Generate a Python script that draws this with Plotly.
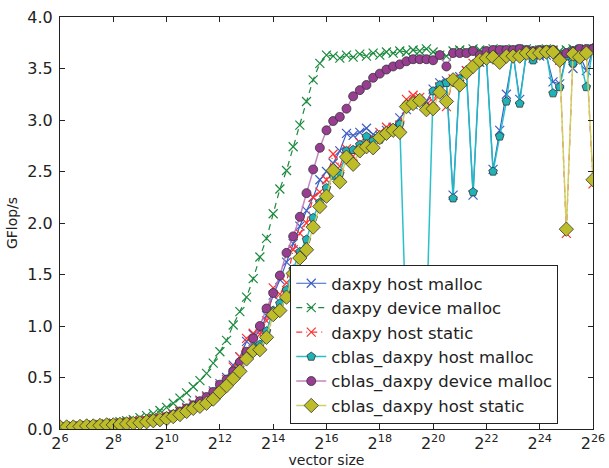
import plotly.graph_objects as go

# Vector sizes: four samples per octave from 2^6 to 2^26
vector_sizes = [2 ** (e / 4) for e in range(24, 105)]

daxpy_host_malloc = [
    0.02, 0.02, 0.025, 0.03, 0.03, 0.035, 0.04, 0.045, 0.05, 0.055, 0.06, 0.065, 0.075, 0.085, 0.095, 0.105, 0.12, 0.14, 0.17, 0.21,
    0.25, 0.28, 0.32, 0.37, 0.44, 0.50, 0.62, 0.70, 0.85, 0.92, 0.95, 1.10, 1.30, 1.45, 1.62, 1.80, 1.97, 2.12, 2.25, 2.42,
    2.50, 2.58, 2.70, 2.87, 2.85, 2.88, 2.92, 2.86, 2.85, 2.90, 2.93, 3.02, 3.10, 3.15, 3.18, 3.18, 3.30, 3.36, 3.38, 2.27,
    3.42, 3.48, 2.27, 3.56, 3.60, 2.52, 2.90, 3.25, 3.64, 3.20, 3.64, 3.60, 3.62, 3.63, 3.37, 3.35, 3.62, 3.50, 3.63, 3.48, 3.68,
]
daxpy_device_malloc = [
    0.02, 0.02, 0.025, 0.03, 0.035, 0.04, 0.045, 0.05, 0.06, 0.07, 0.08, 0.09, 0.11, 0.13, 0.15, 0.18, 0.21, 0.25, 0.30, 0.35,
    0.41, 0.47, 0.54, 0.64, 0.75, 0.86, 1.01, 1.14, 1.28, 1.46, 1.67, 1.85, 2.09, 2.33, 2.51, 2.74, 2.95, 3.18, 3.39, 3.55,
    3.63, 3.62, 3.60, 3.63, 3.61, 3.64, 3.62, 3.65, 3.63, 3.66, 3.65, 3.67, 3.66, 3.68, 3.67, 3.69, 3.66, 3.63, 3.62, 3.67,
    3.68, 3.67, 3.69, 3.68, 3.67, 3.69, 3.68, 3.68, 3.69, 3.68, 3.69, 3.68, 3.68, 3.69, 3.68, 3.67, 3.68, 3.69, 3.68, 3.69, 3.69,
]
daxpy_host_static = [
    0.02, 0.02, 0.025, 0.03, 0.03, 0.035, 0.04, 0.045, 0.05, 0.055, 0.06, 0.07, 0.075, 0.085, 0.095, 0.11, 0.12, 0.14, 0.17, 0.20,
    0.24, 0.27, 0.31, 0.35, 0.42, 0.48, 0.60, 0.70, 0.88, 0.93, 0.92, 1.05, 1.37, 1.31, 1.42, 1.74, 1.90, 2.00, 2.25, 2.30,
    2.42, 2.67, 2.55, 2.72, 2.65, 2.78, 2.80, 2.82, 2.88, 2.93, 2.92, 2.95, 3.20, 3.24, 3.22, 3.15, 3.18, 3.32, 3.13, 3.40,
    3.38, 3.48, 3.55, 3.60, 3.62, 3.62, 3.58, 3.64, 3.63, 3.63, 3.66, 3.65, 3.66, 3.67, 3.67, 3.58, 1.90, 3.64, 3.62, 3.66, 2.38,
]
cblas_host_malloc = [
    0.02, 0.02, 0.02, 0.025, 0.03, 0.03, 0.035, 0.04, 0.045, 0.05, 0.055, 0.06, 0.065, 0.075, 0.085, 0.095, 0.11, 0.13, 0.16, 0.19,
    0.21, 0.24, 0.27, 0.31, 0.38, 0.44, 0.52, 0.60, 0.72, 0.80, 0.82, 0.95, 1.15, 1.22, 1.35, 1.55, 1.72, 1.84, 2.05, 2.20,
    2.34, 2.46, 2.48, 2.70, 2.71, 2.76, 2.84, 2.80, 2.81, 2.88, 2.92, 2.96, 0.87, 0.55, 0.75, 1.04, 3.28, 3.34, 3.36, 2.24,
    3.40, 3.46, 2.30, 3.56, 3.60, 2.50, 2.84, 3.18, 3.66, 3.16, 3.66, 3.58, 3.64, 3.65, 3.26, 3.32, 3.62, 3.55, 3.62, 3.32, 3.70,
]
cblas_device_malloc = [
    0.02, 0.02, 0.02, 0.025, 0.03, 0.03, 0.035, 0.04, 0.045, 0.05, 0.055, 0.06, 0.07, 0.08, 0.09, 0.10, 0.12, 0.14, 0.17, 0.20,
    0.23, 0.27, 0.31, 0.36, 0.43, 0.48, 0.56, 0.65, 0.75, 0.88, 1.00, 1.17, 1.32, 1.49, 1.71, 1.87, 2.06, 2.29, 2.52, 2.73,
    2.90, 2.99, 3.03, 3.11, 3.23, 3.29, 3.34, 3.41, 3.45, 3.49, 3.52, 3.54, 3.57, 3.59, 3.59, 3.59, 3.58, 3.63, 3.52, 3.65,
    3.65, 3.65, 3.67, 3.63, 3.67, 3.68, 3.68, 3.68, 3.68, 3.69, 3.68, 3.67, 3.68, 3.68, 3.68, 3.62, 3.65, 3.67, 3.69, 3.69, 3.69,
]
cblas_host_static = [
    0.02, 0.02, 0.02, 0.025, 0.03, 0.03, 0.035, 0.04, 0.04, 0.045, 0.05, 0.055, 0.06, 0.07, 0.08, 0.09, 0.10, 0.12, 0.14, 0.17,
    0.20, 0.22, 0.25, 0.29, 0.36, 0.42, 0.49, 0.56, 0.68, 0.76, 0.77, 0.89, 1.11, 1.15, 1.28, 1.51, 1.66, 1.74, 1.96, 2.16,
    2.26, 2.51, 2.40, 2.64, 2.57, 2.70, 2.74, 2.73, 2.83, 2.87, 2.90, 2.88, 3.13, 3.16, 3.19, 3.10, 3.11, 3.27, 3.18, 3.39,
    3.34, 3.46, 3.52, 3.58, 3.60, 3.61, 3.56, 3.62, 3.62, 3.62, 3.65, 3.64, 3.65, 3.66, 3.66, 3.58, 1.94, 3.64, 3.61, 3.65, 2.42,
]

x_tick_exponents = list(range(6, 27, 2))
y_ticks = [0.0, 0.5, 1.0, 1.5, 2.0, 2.5, 3.0, 3.5, 4.0]

series = [
    ("daxpy host malloc", daxpy_host_malloc,
     dict(color="#3d5fc2", width=1.2, dash="solid"),
     dict(symbol="x-thin", size=9, color="#3d5fc2", line=dict(color="#3d5fc2", width=1.2))),
    ("daxpy device malloc", daxpy_device_malloc,
     dict(color="#1b8a3e", width=1.2, dash="6px,5px"),
     dict(symbol="x-thin", size=9, color="#1b8a3e", line=dict(color="#1b8a3e", width=1.2))),
    ("daxpy host static", daxpy_host_static,
     dict(color="#ff3030", width=1.2, dash="6px,4px,1px,4px"),
     dict(symbol="x-thin", size=9, color="#ff3030", line=dict(color="#ff3030", width=1.2))),
    ("cblas_daxpy host malloc", cblas_host_malloc,
     dict(color="rgba(30,190,198,0.95)", width=1.5),
     dict(symbol="pentagon", size=9, color="#1fb3b8", line=dict(color="#333333", width=0.8))),
    ("cblas_daxpy device malloc", cblas_device_malloc,
     dict(color="rgba(190,120,188,0.9)", width=1.5),
     dict(symbol="circle", size=9, color="#983d92", line=dict(color="#333333", width=0.8))),
    ("cblas_daxpy host static", cblas_host_static,
     dict(color="rgba(205,205,95,0.95)", width=1.5),
     dict(symbol="diamond", size=11, color="#bdbd2a", line=dict(color="#333333", width=0.8))),
]

fig = go.Figure()
for name, values, line_style, marker_style in series:
    fig.add_trace(go.Scatter(
        x=vector_sizes, y=values, name=name, mode="lines+markers",
        line=line_style, marker=marker_style,
    ))

axis_common = dict(
    showgrid=False, zeroline=False, showline=True, linecolor="#222222", linewidth=1,
    mirror="allticks", ticks="inside", ticklen=5, tickcolor="#222222",
)

fig.update_xaxes(
    type="log",
    range=[6 * 0.30103, 26 * 0.30103],
    tickvals=[2 ** e for e in x_tick_exponents],
    ticktext=[f"2<sup>{e}</sup>" for e in x_tick_exponents],
    tickfont=dict(family="DejaVu Sans", size=16, color="#222222"),
    title=dict(text="vector size", font=dict(family="DejaVu Sans", size=14, color="#222222"), standoff=6),
    **axis_common,
)
fig.update_yaxes(
    range=[0, 4.0],
    tickvals=y_ticks,
    ticktext=[f"{v:.1f}" for v in y_ticks],
    tickfont=dict(family="DejaVu Sans", size=16, color="#222222"),
    ticklabelstandoff=3,
    title=dict(text="GFlop/s", font=dict(family="DejaVu Sans", size=14, color="#222222"), standoff=6),
    **axis_common,
)

fig.update_layout(
    width=609, height=468,
    margin=dict(l=60, r=16, t=17, b=39, autoexpand=False),
    plot_bgcolor="white", paper_bgcolor="white",
    font=dict(family="DejaVu Sans", color="#222222"),
    legend=dict(
        x=0.432, y=0.398, xanchor="left", yanchor="top",
        bgcolor="white", bordercolor="#222222", borderwidth=1,
        font=dict(family="DejaVu Sans", size=16.5, color="#222222"),
        itemwidth=30, tracegroupgap=0,
    ),
)

fig.write_html("out.html")
